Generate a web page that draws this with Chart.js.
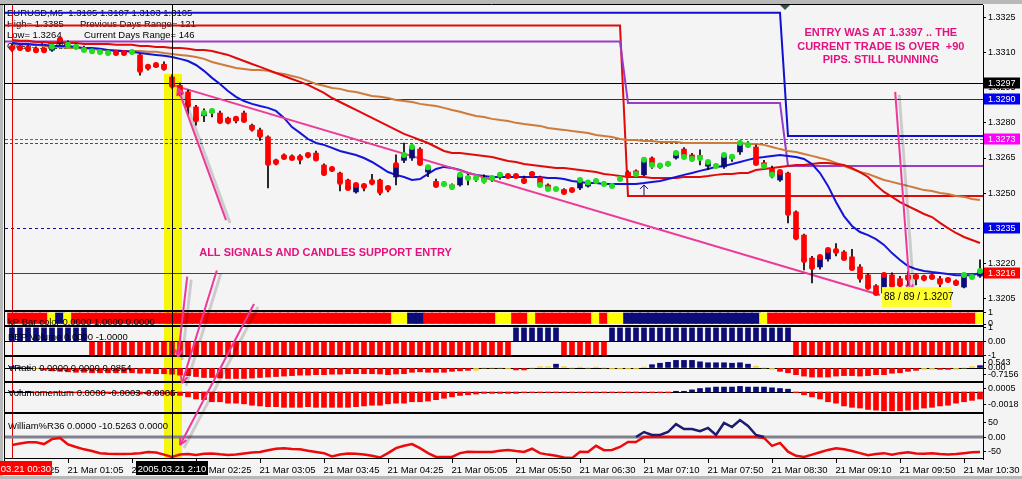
<!DOCTYPE html>
<html>
<head>
<meta charset="utf-8">
<title>EURUSD M5</title>
<script src="https://cdn.jsdelivr.net/npm/chart.js@4.4.1/dist/chart.umd.min.js"></script>
<style>
  html, body { margin: 0; padding: 0; background: #f4f4f4; overflow: hidden; }
  #chart { display: block; }
</style>
</head>
<body>
<canvas id="chart" width="1022" height="479"></canvas>
<script>
// EURUSD M5, 21 Mar 2005, one entry per bar from 00:30
const open = [
  1.33125, 1.33125, 1.33120, 1.33115, 1.33115, 1.33110, 1.33140, 1.33140, 1.33130, 1.33120,
  1.33110, 1.33106, 1.33102, 1.33098, 1.33098, 1.33098, 1.33090, 1.33035, 1.33040, 1.33050,
  1.32996, 1.32960, 1.32932, 1.32868, 1.32830, 1.32845, 1.32842, 1.32820, 1.32810, 1.32842,
  1.32790, 1.32770, 1.32740, 1.32638, 1.32660, 1.32654, 1.32655, 1.32660, 1.32671, 1.32620,
  1.32605, 1.32586, 1.32556, 1.32505, 1.32531, 1.32548, 1.32556, 1.32526, 1.32569, 1.32640,
  1.32650, 1.32688, 1.32590, 1.32550, 1.32535, 1.32535, 1.32535, 1.32570, 1.32565, 1.32565,
  1.32560, 1.32570, 1.32573, 1.32573, 1.32560, 1.32586, 1.32569, 1.32535, 1.32518, 1.32515,
  1.32510, 1.32522, 1.32530, 1.32550, 1.32540, 1.32530, 1.32560, 1.32590, 1.32595, 1.32578,
  1.32650, 1.32612, 1.32620, 1.32650, 1.32688, 1.32663, 1.32660, 1.32615, 1.32620, 1.32612,
  1.32650, 1.32676, 1.32705, 1.32697, 1.32630, 1.32607, 1.32556, 1.32586, 1.32420, 1.32321,
  1.32223, 1.32185, 1.32219, 1.32257, 1.32249, 1.32228, 1.32185, 1.32151, 1.32105, 1.32074,
  1.32151, 1.32135, 1.32150, 1.32150, 1.32142, 1.32146, 1.32135, 1.32135, 1.32125, 1.32099,
  1.32146, 1.32146
];
const high = [
  1.33135, 1.33130, 1.33130, 1.33125, 1.33120, 1.33130, 1.33160, 1.33150, 1.33138, 1.33128,
  1.33115, 1.33115, 1.33108, 1.33105, 1.33105, 1.33106, 1.33095, 1.33045, 1.33055, 1.33060,
  1.33005, 1.32970, 1.32940, 1.32875, 1.32860, 1.32860, 1.32850, 1.32825, 1.32825, 1.32850,
  1.32795, 1.32778, 1.32745, 1.32645, 1.32668, 1.32663, 1.32665, 1.32670, 1.32680, 1.32625,
  1.32612, 1.32590, 1.32560, 1.32538, 1.32540, 1.32580, 1.32560, 1.32530, 1.32663, 1.32714,
  1.32705, 1.32695, 1.32615, 1.32560, 1.32550, 1.32540, 1.32580, 1.32580, 1.32575, 1.32578,
  1.32570, 1.32580, 1.32580, 1.32580, 1.32573, 1.32590, 1.32573, 1.32540, 1.32525, 1.32520,
  1.32520, 1.32560, 1.32550, 1.32560, 1.32550, 1.32540, 1.32565, 1.32595, 1.32600, 1.32650,
  1.32655, 1.32625, 1.32635, 1.32680, 1.32695, 1.32670, 1.32685, 1.32640, 1.32625, 1.32665,
  1.32660, 1.32725, 1.32720, 1.32705, 1.32640, 1.32615, 1.32595, 1.32590, 1.32425, 1.32325,
  1.32230, 1.32230, 1.32260, 1.32285, 1.32255, 1.32260, 1.32195, 1.32158, 1.32110, 1.32160,
  1.32160, 1.32145, 1.32165, 1.32155, 1.32150, 1.32155, 1.32145, 1.32140, 1.32130, 1.32155,
  1.32155, 1.32215
];
const low = [
  1.33105, 1.33110, 1.33105, 1.33105, 1.33100, 1.33105, 1.33135, 1.33125, 1.33115, 1.33105,
  1.33100, 1.33095, 1.33090, 1.33090, 1.33090, 1.33093, 1.33004, 1.33025, 1.33035, 1.33025,
  1.32948, 1.32915, 1.32834, 1.32790, 1.32805, 1.32825, 1.32800, 1.32795, 1.32800, 1.32808,
  1.32765, 1.32725, 1.32522, 1.32620, 1.32645, 1.32645, 1.32625, 1.32650, 1.32645, 1.32575,
  1.32592, 1.32509, 1.32515, 1.32500, 1.32510, 1.32535, 1.32492, 1.32505, 1.32535, 1.32630,
  1.32640, 1.32620, 1.32570, 1.32528, 1.32530, 1.32515, 1.32530, 1.32535, 1.32550, 1.32543,
  1.32550, 1.32560, 1.32565, 1.32565, 1.32540, 1.32573, 1.32530, 1.32515, 1.32510, 1.32500,
  1.32505, 1.32515, 1.32525, 1.32545, 1.32535, 1.32525, 1.32555, 1.32573, 1.32578, 1.32575,
  1.32605, 1.32605, 1.32615, 1.32645, 1.32650, 1.32635, 1.32620, 1.32600, 1.32610, 1.32605,
  1.32635, 1.32665, 1.32695, 1.32625, 1.32605, 1.32565, 1.32550, 1.32373, 1.32300, 1.32172,
  1.32117, 1.32175, 1.32210, 1.32232, 1.32220, 1.32175, 1.32120, 1.32090, 1.32070, 1.32070,
  1.32100, 1.32100, 1.32105, 1.32108, 1.32125, 1.32135, 1.32095, 1.32120, 1.32105, 1.32095,
  1.32138, 1.32140
];
const close = [
  1.33120, 1.33120, 1.33115, 1.33110, 1.33110, 1.33125, 1.33155, 1.33133, 1.33125, 1.33111,
  1.33106, 1.33102, 1.33098, 1.33098, 1.33098, 1.33102, 1.33026, 1.33039, 1.33047, 1.33036,
  1.32962, 1.32928, 1.32876, 1.32815, 1.32842, 1.32851, 1.32808, 1.32808, 1.32817, 1.32812,
  1.32778, 1.32748, 1.32629, 1.32633, 1.32654, 1.32650, 1.32650, 1.32663, 1.32648, 1.32586,
  1.32603, 1.32548, 1.32522, 1.32535, 1.32531, 1.32548, 1.32509, 1.32522, 1.32620, 1.32663,
  1.32697, 1.32629, 1.32610, 1.32535, 1.32539, 1.32526, 1.32578, 1.32565, 1.32565, 1.32555,
  1.32565, 1.32578, 1.32573, 1.32573, 1.32552, 1.32582, 1.32535, 1.32518, 1.32518, 1.32505,
  1.32513, 1.32556, 1.32545, 1.32552, 1.32539, 1.32531, 1.32560, 1.32578, 1.32582, 1.32642,
  1.32620, 1.32618, 1.32625, 1.32671, 1.32654, 1.32646, 1.32650, 1.32633, 1.32616, 1.32663,
  1.32655, 1.32714, 1.32705, 1.32629, 1.32616, 1.32578, 1.32590, 1.32415, 1.32313, 1.32215,
  1.32185, 1.32228, 1.32257, 1.32253, 1.32223, 1.32181, 1.32142, 1.32100, 1.32074, 1.32151,
  1.32108, 1.32112, 1.32138, 1.32142, 1.32138, 1.32142, 1.32121, 1.32129, 1.32117, 1.32151,
  1.32142, 1.32168
];
// signal dot on each bar: r = red, g = green
const dotCodes = ('rrrrrgrggg' + 'gggrrgrrrr' + 'rrrrggrrrr' + 'rrrrrrrrrr' + 'rrrrrrrrrg' +
  'grgrgggggg' + 'ggrrrrgggr' + 'rggggggrgg' + 'gggggggggg' + 'gggrggrrrr' +
  'rrrrrrrrrr' + 'rrrrrrrrrg' + 'gg').split('');

// moving averages
const maFast = [
  1.33141, 1.33137, 1.33137, 1.33133, 1.33133, 1.33128, 1.33128, 1.33128, 1.33124, 1.33120,
  1.33120, 1.33116, 1.33111, 1.33107, 1.33107, 1.33103, 1.33098, 1.33094, 1.33090, 1.33086,
  1.33081, 1.33073, 1.33064, 1.33047, 1.33022, 1.32992, 1.32966, 1.32936, 1.32911, 1.32893,
  1.32881, 1.32872, 1.32864, 1.32851, 1.32821, 1.32782, 1.32757, 1.32731, 1.32714, 1.32706,
  1.32693, 1.32680, 1.32671, 1.32663, 1.32650, 1.32633, 1.32612, 1.32590, 1.32578, 1.32569,
  1.32556, 1.32560, 1.32582, 1.32603, 1.32612, 1.32607, 1.32599, 1.32586, 1.32578, 1.32573,
  1.32569, 1.32569, 1.32569, 1.32569, 1.32569, 1.32569, 1.32569, 1.32565, 1.32565, 1.32560,
  1.32552, 1.32548, 1.32543, 1.32543, 1.32539, 1.32539, 1.32539, 1.32539, 1.32539, 1.32543,
  1.32548, 1.32552, 1.32560, 1.32569, 1.32578, 1.32586, 1.32595, 1.32603, 1.32612, 1.32616,
  1.32624, 1.32633, 1.32642, 1.32650, 1.32654, 1.32659, 1.32663, 1.32659, 1.32654, 1.32646,
  1.32624, 1.32586, 1.32531, 1.32462, 1.32402, 1.32360, 1.32334, 1.32321, 1.32304, 1.32279,
  1.32244, 1.32215, 1.32189, 1.32176, 1.32168, 1.32163, 1.32159, 1.32155, 1.32150, 1.32150,
  1.32150, 1.32159
];
const maMid = [
  1.33154, 1.33150, 1.33150, 1.33145, 1.33145, 1.33141, 1.33141, 1.33141, 1.33141, 1.33137,
  1.33137, 1.33137, 1.33137, 1.33133, 1.33133, 1.33133, 1.33128, 1.33128, 1.33124, 1.33124,
  1.33120, 1.33120, 1.33116, 1.33111, 1.33111, 1.33107, 1.33098, 1.33090, 1.33077, 1.33064,
  1.33051, 1.33039, 1.33026, 1.33013, 1.33000, 1.32987, 1.32975, 1.32962, 1.32945, 1.32928,
  1.32906, 1.32889, 1.32872, 1.32855, 1.32838, 1.32821, 1.32804, 1.32787, 1.32770, 1.32753,
  1.32740, 1.32727, 1.32714, 1.32697, 1.32680, 1.32671, 1.32671, 1.32667, 1.32663, 1.32659,
  1.32654, 1.32646, 1.32637, 1.32633, 1.32624, 1.32620, 1.32616, 1.32612, 1.32607, 1.32607,
  1.32603, 1.32599, 1.32595, 1.32590, 1.32582, 1.32578, 1.32573, 1.32569, 1.32569, 1.32569,
  1.32565, 1.32565, 1.32565, 1.32565, 1.32569, 1.32569, 1.32569, 1.32573, 1.32578, 1.32582,
  1.32582, 1.32586, 1.32586, 1.32599, 1.32603, 1.32607, 1.32612, 1.32616, 1.32620, 1.32620,
  1.32624, 1.32629, 1.32629, 1.32624, 1.32620, 1.32607, 1.32590, 1.32569, 1.32535, 1.32505,
  1.32484, 1.32462, 1.32445, 1.32428, 1.32411, 1.32398, 1.32373, 1.32351, 1.32330, 1.32313,
  1.32300, 1.32287
];
const maSlow = [
  1.33137, 1.33137, 1.33133, 1.33133, 1.33128, 1.33124, 1.33124, 1.33120, 1.33120, 1.33116,
  1.33116, 1.33111, 1.33111, 1.33111, 1.33107, 1.33107, 1.33107, 1.33103, 1.33103, 1.33098,
  1.33094, 1.33090, 1.33086, 1.33081, 1.33073, 1.33060, 1.33051, 1.33043, 1.33034, 1.33030,
  1.33026, 1.33026, 1.33022, 1.33013, 1.33009, 1.33000, 1.32992, 1.32979, 1.32966, 1.32958,
  1.32949, 1.32945, 1.32936, 1.32932, 1.32923, 1.32915, 1.32911, 1.32906, 1.32898, 1.32893,
  1.32889, 1.32881, 1.32876, 1.32872, 1.32864, 1.32855, 1.32847, 1.32838, 1.32829, 1.32825,
  1.32817, 1.32812, 1.32808, 1.32800, 1.32795, 1.32791, 1.32787, 1.32778, 1.32774, 1.32770,
  1.32765, 1.32761, 1.32757, 1.32748, 1.32744, 1.32740, 1.32731, 1.32727, 1.32727, 1.32723,
  1.32723, 1.32718, 1.32718, 1.32718, 1.32714, 1.32714, 1.32714, 1.32714, 1.32714, 1.32714,
  1.32714, 1.32714, 1.32710, 1.32710, 1.32706, 1.32697, 1.32688, 1.32680, 1.32676, 1.32667,
  1.32659, 1.32650, 1.32642, 1.32629, 1.32616, 1.32603, 1.32590, 1.32582, 1.32569, 1.32556,
  1.32548, 1.32539, 1.32531, 1.32522, 1.32513, 1.32509, 1.32501, 1.32496, 1.32488, 1.32484,
  1.32475, 1.32471
];

// day range step lines: bar index of each corner and its price
const blueStepX = [-1, 96, 97, 122];
const blueStepY = [1.33270, 1.33270, 1.32744, 1.32744];
const purpleStepX = [-1, 76, 77, 96, 97, 122];
const purpleStepY = [1.33147, 1.33147, 1.32885, 1.32885, 1.32616, 1.32616];
const redStepX = [-1, 76, 77, 122];
const redStepY = [1.33215, 1.33215, 1.32488, 1.32488];
const trendX = [20, 108.5];
const trendY = [1.32962, 1.32065];

// indicator windows
const kpCodes = ('rrrrrynyrr' + 'rrrrrrrrrr' + 'rrrrrrrrrr' + 'rrrrrrrrrr' + 'rrrrrrrryy' +
  'nnrrrrrrrr' + 'ryyrryrrrr' + 'rrryryynnn' + 'nnnnnnnnnn' + 'nnnnyrrrrr' +
  'rrrrrrrrrr' + 'rrrrrrrrrr' + 'ry').split('');
const bepVolume = [
   1,  1,  1,  1,  1,  1,  1,  1,  1,  1,
  -1, -1, -1, -1, -1, -1, -1, -1, -1, -1,
  -1, -1, -1, -1, -1, -1, -1, -1, -1, -1,
  -1, -1, -1, -1, -1, -1, -1, -1, -1, -1,
  -1, -1, -1, -1, -1, -1, -1, -1, -1, -1,
  -1, -1, -1, -1, -1, -1, -1, -1, -1, -1,
  -1, -1, -1,  1,  1,  1,  1,  1,  1, -1,
  -1, -1, -1, -1, -1,  1,  1,  1,  1,  1,
   1,  1,  1,  1,  1,  1,  1,  1,  1,  1,
   1,  1,  1,  1,  1,  1,  1,  1, -1, -1,
  -1, -1, -1, -1, -1, -1, -1, -1, -1, -1,
  -1, -1, -1, -1, -1, -1, -1, -1, -1, -1,
  -1, -1
];
const vRatio = [
  0.15, 0.1, 0.05, -0.1, -0.2, -0.3, -0.35, -0.4, -0.45, -0.45,
  -0.5, -0.5, -0.5, -0.5, -0.5, -0.5, -0.55, -0.55, -0.6, -0.6,
  -0.65, -0.75, -0.8, -0.9, -1.0, -1.0, -1.05, -1.1, -1.1, -1.1,
  -1.05, -1.0, -0.95, -0.9, -0.85, -0.8, -0.75, -0.75, -0.7, -0.7,
  -0.65, -0.65, -0.6, -0.6, -0.6, -0.6, -0.63, -0.7, -0.63, -0.6,
  -0.45, -0.4, -0.45, -0.45, -0.45, -0.35, -0.3, -0.25, -0.25, 0,
  0, 0, -0.1, -0.2, -0.2, 0, 0.15, 0.15, 0.4, 0.15,
  0, 0.1, 0, 0.1, 0, -0.1, -0.1, -0.1, -0.1, 0.1,
  0.35, 0.5, 0.6, 0.8, 0.8, 0.8, 0.65, 0.55, 0.55, 0.55,
  0.5, 0.55, 0.4, 0.2, 0, -0.15, -0.35, -0.5, -0.7, -0.85,
  -0.95, -0.95, -0.95, -0.85, -0.8, -0.8, -0.85, -0.8, -0.7, -0.7,
  -0.55, -0.5, -0.35, -0.25, -0.15, -0.15, -0.15, -0.15, -0.15, 0,
  0.15, 0.25
];
const vRatioCodes = ('nnnyrrrrrr' + 'rrrrrrrrrr' + 'rrrrrrrrrr' + 'rrrrrrrrrr' + 'rrrrrrrrrr' +
  'rrrrrrrryy' + 'yyyrryyyny' + 'yyyyyyyyyy' + 'nnnnnnnnnn' + 'nnnyyyrrrr' +
  'rrrrrrrrrr' + 'rrrryyrryy' + 'yn').split('');
const volMomentum = [
  0.0001, 0.0001, 0.0001, -0.0001, -0.0001, -0.0001, -0.0001, -0.0001, -0.0001, -0.0001,
  -0.0001, -0.0002, -0.0002, -0.0002, -0.0002, -0.0002, -0.0003, -0.0003, -0.0003, -0.0003,
  -0.0004, -0.0005, -0.0007, -0.0010, -0.0011, -0.0014, -0.0014, -0.0016, -0.0016, -0.0017,
  -0.0019, -0.0020, -0.0021, -0.0021, -0.0022, -0.0022, -0.0022, -0.0021, -0.0022, -0.0022,
  -0.0022, -0.0022, -0.0022, -0.0021, -0.0020, -0.0019, -0.0019, -0.0017, -0.0016, -0.0016,
  -0.0014, -0.0014, -0.0013, -0.0011, -0.0009, -0.0007, -0.0005, -0.0004, -0.0003, -0.0002,
  -0.0002, -0.0002, -0.0002, -0.0002, -0.0001, -0.0001, -0.0001, -0.0001, -0.0001, -0.0001,
  -0.0001, -0.0001, -0.0001, -0.0001, -0.0001, -0.0001, -0.0001, -0.0001, -0.0001, -0.0001,
  -0.0001, -0.0001, -0.0001, 0.0001, 0.0001, 0.0003, 0.0005, 0.0006, 0.0007, 0.0007,
  0.0007, 0.0008, 0.0007, 0.0007, 0.0007, 0.0006, 0.0005, 0.0004, -0.0001, -0.0004,
  -0.0007, -0.0010, -0.0014, -0.0016, -0.0020, -0.0022, -0.0023, -0.0025, -0.0026, -0.0027,
  -0.0027, -0.0027, -0.0026, -0.0025, -0.0023, -0.0022, -0.0020, -0.0019, -0.0016, -0.0014,
  -0.0012, -0.0010
];
const williamsR = [
  -27, -22, -18, -18, -24, -7, -3, -25, -34, -42,
  -48, -55, -57, -58, -58, -57, -55, -51, -53, -60,
  -68, -60, -58, -61, -57, -56, -59, -61, -60, -56,
  -53, -51, -45, -40, -38, -41, -42, -47, -51, -55,
  -66, -60, -56, -57, -60, -64, -70, -55, -38, -30,
  -24, -38, -55, -68, -68, -68, -55, -50, -51, -51,
  -51, -47, -44, -48, -51, -40, -55, -60, -64, -70,
  -72, -50, -51, -30, -45, -44, -34, -17, -17, 17,
  7, 7, 17, 44, 27, 27, 20, 31, 7, 48,
  34, 58, 38, 7, -3, -30, -20, -50, -64, -68,
  -60, -52, -44, -38, -42, -48, -55, -62, -58, -55,
  -60, -55, -52, -56, -57, -55, -58, -60, -58, -55,
  -52, -51
];

// axis ticks and time labels
const priceTicks = [1.3205, 1.3220, 1.3235, 1.3250, 1.3265, 1.3280, 1.3295, 1.3310, 1.3325];
const timeTickBars = [-1, 7, 15, 23, 31, 39, 47, 55, 63, 71, 79, 87, 95, 103, 111, 119];
const timeTickText = ['21 Mar 00:25', '21 Mar 01:05', '21 Mar 01:45', '21 Mar 02:25', '21 Mar 03:05',
  '21 Mar 03:45', '21 Mar 04:25', '21 Mar 05:05', '21 Mar 05:50', '21 Mar 06:30', '21 Mar 07:10',
  '21 Mar 07:50', '21 Mar 08:30', '21 Mar 09:10', '21 Mar 09:50', '21 Mar 10:30'];

const FONT = '"Liberation Sans", Arial, sans-serif';
const NAVY = '#0c0c78';
const PINK = '#ec3a98';
const PINK_TEXT = '#e3127f';
const codeColor = {r: '#ff0000', g: '#22dd22', n: NAVY, y: '#ffff00'};
const vrColor = {r: '#ff0000', n: NAVY, y: '#f2d64a'};

// annotations (bar index + value on a given axis)
const levelLines = [
  {v: 1.3297, color: '#000000', dash: []},
  {v: 1.3290, color: '#1c1cc8', dash: []},
  {v: 1.3273, color: '#ff00ff', dash: [3, 2]},
  {v: 1.32714, color: '#ff0000', dash: [3, 2]},
  {v: 1.3235, color: '#10108c', dash: [3, 3]},
  {v: 1.3216, color: '#e00000', dash: []}
];
const priceTags = [
  {v: 1.3297, bg: '#000000'}, {v: 1.3290, bg: '#0000ee'}, {v: 1.3273, bg: '#ff00ff'},
  {v: 1.3235, bg: '#0000ee'}, {v: 1.3216, bg: '#ff0000'}
];
const cursorBar = 20;
const arrows = [
  {x1: 26.75, v1: 1.32385, x2: 20.75, v2: 1.32948, axis: 'y'},
  {x1: 21.9, v1: 1.32144, x2: 20.75, v2: 1.16, axis: 'yVr'},
  {x1: 25.6, v1: 1.32170, x2: 21.25, v2: 0.00129, axis: 'yVm'},
  {x1: 30.25, v1: 1.32027, x2: 21.0, v2: -27, axis: 'yW'},
  {x1: 110.4, v1: 1.32932, x2: 112.25, v2: 1.32079, axis: 'y'}
];
const paneLabels = [
  ['yKp', 'kP Bar color 0.0000 1.0000 0.0000', 14],
  ['yBep', 'BEP Volume 0.0000 -1.0000', 14],
  ['yVr', 'VRatio 0.0000 0.0000 0.0854', 15],
  ['yVm', 'Volumomentum 0.0000 -0.0003 -0.0005', 14],
  ['yW', 'William%R36 0.0000 -10.5263 0.0000', 16]
];

const idx = open.map((_, i) => i);
const pts = (xs, ys) => xs.map((x, i) => ({x: x, y: ys[i]}));
const wRed = williamsR.map(v => Math.min(v, 0));
const wNavy = williamsR.map((v, i) => v > 0 ? v : ((williamsR[i - 1] > 0 || williamsR[i + 1] > 0) ? 0 : null));

function seg(ctx, x1, y1, x2, y2) {
  ctx.beginPath(); ctx.moveTo(x1, y1); ctx.lineTo(x2, y2); ctx.stroke();
}

function paneScale(weight, min, max, ticks, text) {
  return {
    type: 'linear', position: 'right', stack: 'panes', stackWeight: weight, min: min, max: max,
    grid: {drawOnChartArea: false, drawTicks: true, tickLength: 3, color: '#000', tickColor: '#000'},
    border: {display: true, color: '#000'},
    ticks: {autoSkip: false, padding: 2, color: '#000', font: {family: FONT, size: 9},
      callback: (v, i) => text[i]},
    afterBuildTicks: s => { s.ticks = ticks.map(v => ({value: v})); },
    afterFit: s => { s.width = 39; s.paddingTop = 0; s.paddingBottom = 0; }
  };
}

const mt4 = {
  id: 'mt4',
  beforeDraw(chart) {
    const ctx = chart.ctx;
    ctx.save();
    ctx.fillStyle = '#f4f4f4';
    ctx.fillRect(0, 0, chart.width, chart.height);
    ctx.fillStyle = '#b8b8b8';
    ctx.fillRect(0, 0, chart.width, 4);
    ctx.fillRect(0, 0, 3, chart.height);
    ctx.fillRect(0, 476, chart.width, 3);
    ctx.restore();
  },
  beforeDatasetsDraw(chart) {
    const {ctx, chartArea: a, scales: s} = chart;
    const x = s.x, y = s.y;
    ctx.save();
    // header
    ctx.fillStyle = '#000';
    ctx.font = '9.5px ' + FONT;
    ctx.fillText('EURUSD,M5  1.3105 1.3107 1.3103 1.3105', 7, 16);
    ctx.fillText('High= 1.3385', 7, 27);
    ctx.fillText('Previous Days Range= 121', 80, 27);
    ctx.fillText('Low= 1.3264', 7, 38);
    ctx.fillText('Current Days Range= 146', 84, 38);
    ctx.fillText('Close= 1.3385', 7, 49);
    // highlight band on the entry bar
    const bx1 = x.getPixelForValue(cursorBar - 1), bx2 = x.getPixelForValue(cursorBar + 1.25);
    const by = y.getPixelForValue(1.33009);
    ctx.fillStyle = '#f6f60a';
    ctx.fillRect(bx1, by, bx2 - bx1, a.bottom - by);
    // price levels
    ctx.lineWidth = 1;
    levelLines.forEach(l => {
      ctx.strokeStyle = l.color;
      ctx.setLineDash(l.dash);
      const py = Math.round(y.getPixelForValue(l.v)) + 0.5;
      seg(ctx, a.left, py, a.right, py);
    });
    ctx.setLineDash([]);
    // period separator
    ctx.strokeStyle = '#e00000';
    const sx = Math.round(x.getPixelForValue(0)) + 0.5;
    seg(ctx, sx, a.top, sx, a.bottom);
    // zero lines
    ctx.strokeStyle = '#000';
    ['yBep', 'yVr', 'yVm'].forEach(id => {
      const zy = Math.round(s[id].getPixelForValue(0)) + 0.5;
      seg(ctx, a.left, zy, a.right, zy);
    });
    ctx.strokeStyle = '#80808e';
    ctx.lineWidth = 3;
    const wz = s.yW.getPixelForValue(0);
    seg(ctx, a.left, wz, a.right, wz);
    ctx.restore();
  },
  afterDatasetsDraw(chart) {
    const {ctx, chartArea: a, scales: s} = chart;
    const x = s.x, y = s.y;
    ctx.save();
    // window borders
    ctx.strokeStyle = '#000';
    ctx.lineWidth = 1;
    seg(ctx, a.left, s.y.bottom - 0.5, a.right, s.y.bottom - 0.5);
    ['yKp', 'yBep', 'yVr', 'yVm', 'yW'].forEach(id => {
      seg(ctx, a.left, s[id].top + 0.5, a.right, s[id].top + 0.5);
      seg(ctx, a.left, s[id].bottom - 0.5, a.right, s[id].bottom - 0.5);
    });
    seg(ctx, 4.5, 4, 4.5, a.bottom);
    seg(ctx, 0, 4.5, a.right, 4.5);
    // crosshair
    const cx = Math.round(x.getPixelForValue(cursorBar)) + 0.5;
    seg(ctx, cx, a.top, cx, a.bottom);
    // small buy arrow
    ctx.strokeStyle = NAVY;
    const ax = x.getPixelForValue(79), ay1 = y.getPixelForValue(1.32492), ay2 = y.getPixelForValue(1.32535);
    seg(ctx, ax, ay1, ax, ay2);
    seg(ctx, ax - 4, ay2 + 4, ax, ay2);
    seg(ctx, ax + 4, ay2 + 4, ax, ay2);
    // trend arrows with shadow
    arrows.forEach(r => {
      const x1 = x.getPixelForValue(r.x1), y1 = y.getPixelForValue(r.v1);
      const x2 = x.getPixelForValue(r.x2), y2 = s[r.axis].getPixelForValue(r.v2);
      ctx.strokeStyle = 'rgba(0,0,0,0.16)';
      ctx.lineWidth = 3;
      seg(ctx, x1 + 4, y1 + 3, x2 + 4, y2 + 3);
      ctx.strokeStyle = PINK;
      ctx.lineWidth = 2;
      seg(ctx, x1, y1, x2, y2);
      const ang = Math.atan2(y2 - y1, x2 - x1);
      seg(ctx, x2, y2, x2 - 8 * Math.cos(ang - 0.45), y2 - 8 * Math.sin(ang - 0.45));
      seg(ctx, x2, y2, x2 - 8 * Math.cos(ang + 0.45), y2 - 8 * Math.sin(ang + 0.45));
    });
    // comments
    ctx.fillStyle = PINK_TEXT;
    ctx.font = 'bold 11px ' + FONT;
    ctx.textBaseline = 'middle';
    ctx.fillText('ALL SIGNALS AND CANDLES SUPPORT ENTRY', x.getPixelForValue(23.4), y.getPixelForValue(1.32243));
    ctx.textAlign = 'center';
    const tx = x.getPixelForValue(108.6);
    ctx.fillText('ENTRY WAS AT 1.3397 .. THE', tx, y.getPixelForValue(1.33184));
    ctx.fillText('CURRENT TRADE IS OVER  +90', tx, y.getPixelForValue(1.33124));
    ctx.fillText('PIPS. STILL RUNNING', tx, y.getPixelForValue(1.33069));
    // low marker box
    const lx1 = x.getPixelForValue(108.75), lx2 = x.getPixelForValue(117.5);
    const ly1 = y.getPixelForValue(1.32099), ly2 = y.getPixelForValue(1.32014);
    ctx.fillStyle = '#ffff30';
    ctx.fillRect(lx1, ly1, lx2 - lx1, ly2 - ly1);
    ctx.fillStyle = '#000';
    ctx.font = '10px ' + FONT;
    ctx.textAlign = 'left';
    ctx.fillText('88 / 89 / 1.3207', lx1 + 2, (ly1 + ly2) / 2);
    // window titles
    ctx.font = '9.5px ' + FONT;
    ctx.textBaseline = 'alphabetic';
    ctx.fillStyle = '#000';
    paneLabels.forEach(p => ctx.fillText(p[1], 8, s[p[0]].top + p[2]));
    ctx.restore();
  },
  afterDraw(chart) {
    const {ctx, chartArea: a, scales: s} = chart;
    const x = s.x, y = s.y;
    ctx.save();
    // price tags on the axis
    ctx.font = '9px ' + FONT;
    ctx.textBaseline = 'middle';
    priceTags.forEach(t => {
      const py = Math.round(y.getPixelForValue(t.v));
      ctx.fillStyle = t.bg;
      ctx.fillRect(a.right + 1, py - 5.5, 36, 11);
      ctx.fillStyle = '#fff';
      ctx.fillText(t.v.toFixed(4), a.right + 5, py + 0.5);
    });
    // time axis
    ctx.strokeStyle = '#000';
    ctx.fillStyle = '#000';
    ctx.font = '9.5px ' + FONT;
    ctx.textBaseline = 'alphabetic';
    timeTickBars.forEach((b, i) => {
      const tx = Math.round(x.getPixelForValue(b)) + 0.5;
      seg(ctx, tx, a.bottom, tx, a.bottom + 4);
      ctx.fillText(timeTickText[i], tx - 1, a.bottom + 14);
    });
    // separator and cursor time boxes
    ctx.fillStyle = '#ff0000';
    ctx.fillRect(0, a.bottom + 2, 52, 14);
    ctx.fillStyle = '#fff';
    ctx.textAlign = 'right';
    ctx.fillText('2005.03.21 00:30', 51, a.bottom + 13);
    const cx = x.getPixelForValue(cursorBar);
    ctx.fillStyle = '#000';
    ctx.fillRect(cx - 36, a.bottom + 2, 72, 14);
    ctx.fillStyle = '#fff';
    ctx.textAlign = 'center';
    ctx.fillText('2005.03.21 2:10', cx, a.bottom + 13);
    // chart shift marker
    ctx.fillStyle = '#3c5050';
    ctx.beginPath();
    ctx.moveTo(780, 5); ctx.lineTo(790, 5); ctx.lineTo(785, 10); ctx.closePath(); ctx.fill();
    ctx.restore();
  }
};

new Chart(document.getElementById('chart'), {
  data: {
    datasets: [
      {type: 'line', label: 'signal', data: pts(idx, close), showLine: false, pointRadius: 3,
        pointBackgroundColor: dotCodes.map(c => codeColor[c]), pointBorderWidth: 0, order: 1},
      {type: 'bar', label: 'body', data: idx.map(i => ({x: i, y: [open[i], close[i]]})),
        backgroundColor: idx.map(i => close[i] >= open[i] ? NAVY : '#ff0000'),
        barThickness: 5, grouped: false, borderSkipped: false, order: 2},
      {type: 'bar', label: 'wick', data: idx.map(i => ({x: i, y: [low[i], high[i]]})),
        backgroundColor: '#000', barThickness: 1, grouped: false, borderSkipped: false, order: 3},
      {type: 'line', label: 'trend', data: pts(trendX, trendY), borderColor: PINK, borderWidth: 2,
        pointRadius: 0, order: 4},
      {type: 'line', label: 'fast', data: pts(idx, maFast), borderColor: '#1414d8', borderWidth: 2,
        pointRadius: 0, order: 5},
      {type: 'line', label: 'mid', data: pts(idx, maMid), borderColor: '#e00a0a', borderWidth: 2,
        pointRadius: 0, order: 6},
      {type: 'line', label: 'slow', data: pts(idx, maSlow), borderColor: '#cd7a3a', borderWidth: 2,
        pointRadius: 0, order: 7},
      {type: 'line', label: 'range hi', data: pts(blueStepX, blueStepY), borderColor: '#1010d0',
        borderWidth: 2, pointRadius: 0, order: 8},
      {type: 'line', label: 'range mid', data: pts(purpleStepX, purpleStepY), borderColor: '#9a3cc8',
        borderWidth: 2, pointRadius: 0, order: 9},
      {type: 'line', label: 'range lo', data: pts(redStepX, redStepY), borderColor: '#e00a0a',
        borderWidth: 2, pointRadius: 0, order: 10},
      {type: 'bar', label: 'kP', yAxisID: 'yKp', data: idx.map(i => ({x: i, y: [0, 1]})),
        backgroundColor: kpCodes.map(c => codeColor[c]), barThickness: 9, grouped: false,
        borderSkipped: false, order: 11},
      {type: 'bar', label: 'BEP', yAxisID: 'yBep', data: pts(idx, bepVolume),
        backgroundColor: bepVolume.map(v => v > 0 ? NAVY : '#ff0000'), barThickness: 5, grouped: false, order: 12},
      {type: 'bar', label: 'VRatio', yAxisID: 'yVr', data: pts(idx, vRatio),
        backgroundColor: vRatioCodes.map(c => vrColor[c]), barThickness: 5, grouped: false, order: 13},
      {type: 'bar', label: 'VolMom', yAxisID: 'yVm', data: pts(idx, volMomentum),
        backgroundColor: volMomentum.map(v => v > 0 ? NAVY : '#ff0000'), barThickness: 5, grouped: false, order: 14},
      {type: 'line', label: 'W%R up', yAxisID: 'yW', data: pts(idx, wNavy), borderColor: '#1c1c70',
        borderWidth: 2.5, pointRadius: 0, spanGaps: false, order: 15},
      {type: 'line', label: 'W%R', yAxisID: 'yW', data: pts(idx, wRed), borderColor: '#ee0a0a',
        borderWidth: 2.5, pointRadius: 0, order: 16}
    ]
  },
  options: {
    responsive: false,
    devicePixelRatio: 1,
    animation: false,
    events: [],
    layout: {padding: {left: 5, top: 5, right: 0, bottom: 20}},
    plugins: {legend: {display: false}, tooltip: {enabled: false}},
    scales: {
      x: {type: 'linear', min: -0.875, max: 121.375, offset: false, display: false},
      y: paneScale(306, 1.31997, 1.33303, priceTicks, priceTicks.map(v => v.toFixed(4))),
      yKp: paneScale(15, -0.18, 1.18, [1, 0], ['1', '0']),
      yBep: paneScale(30, -1.07, 1.14, [1, 0, -1], ['1', '0.00', '-1']),
      yVr: paneScale(26, -1.47, 1.26, [0.543, 0, -0.7156], ['0.543', '0.00', '-0.7156']),
      yVm: paneScale(31, -0.00301, 0.00143, [0.0005, -0.0018], ['0.0005', '-0.0018']),
      yW: paneScale(46, -75, 82, [50, 0, -50], ['50', '0.00', '-50'])
    }
  },
  plugins: [mt4]
});
</script>
</body>
</html>
